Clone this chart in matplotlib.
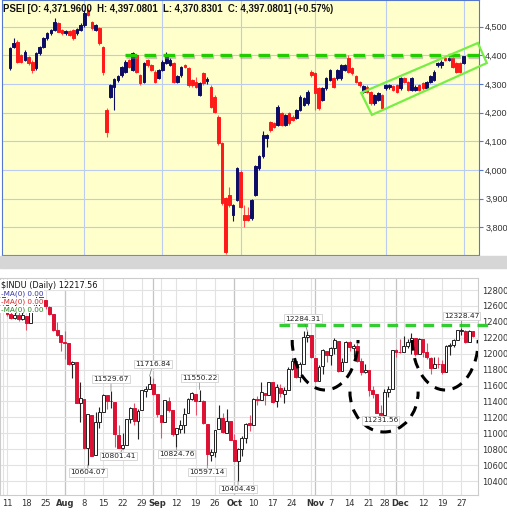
import numpy as np
import pandas as pd
import matplotlib.pyplot as plt
import matplotlib.patheffects as pe
import matplotlib.transforms as mtrans
from matplotlib.patches import Arc, Polygon, Rectangle

# ---- PSEI (daily), Jul 2011 - Jan 2012 ----
psei_holidays = ['2011-08-29', '2011-08-30', '2011-09-27', '2011-10-31',
                 '2011-11-01', '2011-11-07', '2011-11-30', '2011-12-30']
psei_dates = pd.bdate_range('2011-07-04', '2012-01-02').drop(pd.to_datetime(psei_holidays))

psei_open = [4355, 4430, 4448, 4401, 4384, 4395, 4378, 4355, 4407, 4430, 4459, 4477, 4488, 4512, 4488, 4477,
             4485, 4488, 4477, 4488, 4506, 4558, 4517, 4488, 4494, 4430, 4209, 4256, 4291, 4314, 4331, 4343,
             4384, 4349, 4401, 4331, 4308, 4384, 4366, 4343, 4320, 4349, 4372, 4366, 4372, 4308, 4331, 4366,
             4355, 4314, 4308, 4262, 4337, 4312, 4291, 4256, 4186, 4093, 3901, 3913, 3843, 3895, 3994, 3843,
             3843, 3831, 3913, 4006, 4047, 4110, 4168, 4163, 4157, 4198, 4157, 4198, 4186, 4180, 4209, 4227,
             4232, 4343, 4337, 4285, 4244, 4285, 4314, 4320, 4320, 4320, 4349, 4390, 4355, 4326, 4308, 4273,
             4291, 4273, 4232, 4244, 4262, 4285, 4288, 4293, 4296, 4285, 4320, 4308, 4279, 4279, 4296, 4302,
             4285, 4308, 4314, 4366, 4366, 4390, 4384, 4390, 4372, 4372, 4372]
psei_close = [4424, 4444, 4378, 4378, 4413, 4372, 4349, 4407, 4430, 4459, 4477, 4488, 4517, 4483, 4477, 4486,
              4471, 4459, 4491, 4506, 4546, 4541, 4494, 4506, 4442, 4343, 4134, 4296, 4316, 4326, 4360, 4378,
              4360, 4407, 4343, 4302, 4372, 4366, 4349, 4308, 4349, 4378, 4401, 4384, 4308, 4326, 4360, 4360,
              4296, 4296, 4291, 4302, 4302, 4316, 4221, 4203, 4093, 3884, 3715, 3878, 3878, 4006, 3872, 3826,
              3826, 3895, 4012, 4047, 4122, 4122, 4139, 4151, 4221, 4157, 4192, 4163, 4174, 4209, 4256, 4250,
              4273, 4331, 4267, 4215, 4285, 4320, 4349, 4291, 4349, 4366, 4366, 4343, 4337, 4308, 4296, 4293,
              4273, 4232, 4262, 4267, 4215, 4296, 4296, 4279, 4273, 4320, 4308, 4279, 4320, 4291, 4279, 4285,
              4308, 4326, 4343, 4372, 4378, 4384, 4390, 4360, 4343, 4343, 4397]
psei_high = [4430, 4462, 4452, 4405, 4418, 4398, 4382, 4410, 4434, 4463, 4480, 4492, 4530, 4516, 4492, 4490,
             4488, 4492, 4496, 4512, 4558, 4564, 4520, 4510, 4498, 4434, 4215, 4300, 4320, 4330, 4364, 4384,
             4388, 4410, 4405, 4335, 4376, 4388, 4370, 4347, 4353, 4382, 4410, 4390, 4376, 4330, 4364, 4370,
             4360, 4318, 4326, 4306, 4340, 4325, 4295, 4260, 4190, 4098, 3905, 3942, 3882, 4010, 3998, 3878,
             3872, 3900, 4016, 4052, 4135, 4126, 4172, 4166, 4226, 4202, 4196, 4202, 4190, 4213, 4260, 4255,
             4278, 4350, 4341, 4290, 4290, 4325, 4353, 4324, 4353, 4370, 4370, 4401, 4360, 4330, 4312, 4297,
             4295, 4277, 4266, 4272, 4266, 4300, 4300, 4297, 4300, 4324, 4324, 4312, 4324, 4296, 4300, 4306,
             4312, 4330, 4348, 4376, 4382, 4394, 4394, 4394, 4376, 4376, 4397]
psei_low = [4348, 4425, 4372, 4372, 4380, 4366, 4337, 4350, 4402, 4426, 4455, 4472, 4484, 4480, 4472, 4472,
            4466, 4455, 4472, 4484, 4500, 4536, 4488, 4484, 4436, 4330, 4114, 4250, 4209, 4308, 4326, 4338,
            4355, 4345, 4338, 4297, 4302, 4360, 4344, 4302, 4316, 4344, 4368, 4362, 4302, 4302, 4326, 4355,
            4290, 4290, 4286, 4258, 4296, 4300, 4215, 4198, 4088, 3878, 3707, 3872, 3820, 3890, 3866, 3802,
            3820, 3826, 3908, 4000, 4042, 4081, 4134, 4146, 4152, 4152, 4152, 4158, 4170, 4176, 4205, 4222,
            4228, 4326, 4209, 4210, 4240, 4280, 4310, 4286, 4315, 4315, 4344, 4338, 4332, 4303, 4290, 4268,
            4268, 4226, 4226, 4240, 4208, 4280, 4284, 4274, 4268, 4280, 4303, 4274, 4274, 4274, 4274, 4280,
            4280, 4303, 4310, 4360, 4355, 4380, 4380, 4355, 4338, 4338, 4371]
psei_tick_dates = ['2011-08-01', '2011-09-01', '2011-10-01', '2011-11-01', '2011-12-01', '2012-01-02']
psei_tick_labels = ['08/01/2011', '09/01/2011', '10/03/2011', '11/01/2011', '12/01/2011', '01/02/2012']
psei_resistance = 4400
psei_channel = [(94.4, 4269), (97.3, 4192), (128.2, 4373), (125.8, 4443)]

# ---- $INDU (daily), Jul - Dec 2011 ----
dow_holidays = ['2011-09-05', '2011-11-24', '2011-12-26']
dow_dates = pd.bdate_range('2011-07-08', '2011-12-30').drop(pd.to_datetime(dow_holidays))

dow_open = [12719, 12655, 12505, 12447, 12492, 12437, 12479, 12386, 12587, 12572, 12724, 12680, 12592, 12500,
            12300, 12238, 12141, 12131, 11866, 11896, 11383, 11433, 10810, 11228, 10729, 11143, 11270, 11478,
            11406, 11395, 10983, 10820, 10854, 11176, 11320, 11149, 11290, 11530, 11560, 11614, 11490, 11230,
            11140, 11410, 11290, 10990, 11060, 11110, 11250, 11430, 11500, 11400, 11400, 11120, 10730, 10770,
            11050, 11190, 11010, 11150, 10910, 10650, 10800, 10940, 11130, 11110, 11430, 11420, 11510, 11480,
            11640, 11400, 11575, 11500, 11540, 11810, 11910, 11710, 11870, 12205, 12230, 11950, 11660, 11840,
            12040, 11980, 12070, 12160, 11780, 11900, 12150, 12075, 12095, 11905, 11770, 11790, 11545, 11490,
            11255, 11235, 11520, 11560, 12045, 12020, 12020, 12095, 12150, 12195, 12000, 12180, 12020, 11950,
            11825, 11870, 11865, 11770, 12100, 12110, 12170, 12290, 12290, 12150, 12285]
dow_high = [12719, 12655, 12560, 12620, 12590, 12520, 12479, 12600, 12640, 12751, 12750, 12680, 12600, 12500,
            12400, 12240, 12285, 12140, 11905, 11900, 11650, 11433, 11245, 11228, 11270, 11330, 11490, 11478,
            11530, 11395, 11100, 11000, 11180, 11330, 11375, 11300, 11540, 11600, 11717, 11700, 11490, 11230,
            11420, 11450, 11290, 11070, 11170, 11320, 11440, 11520, 11500, 11550, 11420, 11120, 10800, 11045,
            11350, 11250, 11300, 11150, 10990, 10810, 10960, 11130, 11230, 11440, 11470, 11640, 11510, 11650,
            11650, 11620, 11620, 11580, 11830, 11950, 11910, 11900, 12280, 12284, 12230, 11950, 11860, 12060,
            12040, 12080, 12200, 12160, 11950, 12160, 12160, 12120, 12140, 11950, 11870, 11790, 11600, 11490,
            11360, 11560, 11600, 12050, 12060, 12180, 12220, 12190, 12260, 12195, 12200, 12180, 12130, 11960,
            11960, 11960, 11920, 12110, 12130, 12180, 12300, 12328, 12300, 12300, 12290]
dow_low = [12581, 12470, 12430, 12440, 12410, 12420, 12300, 12386, 12550, 12560, 12630, 12560, 12490, 12280,
           12220, 12030, 11935, 11860, 11700, 11380, 11140, 10800, 10604, 10710, 10729, 11070, 11270, 11300,
           11320, 10830, 10818, 10801, 10850, 11130, 11100, 10930, 11290, 11450, 11560, 11480, 11200, 10940,
           11140, 11270, 10960, 10825, 11010, 11000, 11250, 11420, 11230, 11400, 11120, 10597, 10650, 10700,
           11050, 11000, 11010, 10910, 10650, 10404, 10720, 10880, 11030, 11110, 11360, 11420, 11350, 11480,
           11380, 11330, 11450, 11380, 11540, 11800, 11690, 11640, 11870, 12150, 11950, 11640, 11660, 11750,
           11890, 11860, 12000, 11770, 11780, 11900, 12030, 11960, 11890, 11730, 11760, 11470, 11440, 11250,
           11231, 11235, 11450, 11560, 11960, 12010, 12020, 12070, 12000, 11970, 12000, 11960, 11930, 11750,
           11825, 11820, 11740, 11770, 11980, 12080, 12170, 12240, 12140, 12150, 12210]
dow_close = [12657, 12505, 12447, 12492, 12437, 12480, 12385, 12587, 12572, 12724, 12681, 12593, 12502, 12303,
             12241, 12143, 12132, 11867, 11897, 11384, 11445, 10810, 11240, 10720, 11144, 11270, 11483, 11406,
             11411, 10991, 10818, 10855, 11177, 11321, 11150, 11285, 11540, 11560, 11614, 11494, 11240, 11140,
             11415, 11296, 10992, 11062, 11106, 11247, 11434, 11510, 11401, 11408, 11125, 10734, 10771, 11044,
             11191, 11011, 11154, 10913, 10655, 10809, 10940, 11123, 11103, 11433, 11416, 11519, 11478, 11644,
             11397, 11577, 11505, 11542, 11809, 11913, 11706, 11869, 12209, 12231, 11955, 11657, 11836, 12044,
             11983, 12069, 12170, 11780, 11894, 12153, 12079, 12096, 11906, 11770, 11796, 11547, 11493, 11257,
             11232, 11523, 11556, 12046, 12020, 12019, 12097, 12150, 12196, 11997, 12184, 12021, 11955, 11824,
             11869, 11866, 11766, 12103, 12107, 12169, 12294, 12292, 12151, 12288, 12218]

dow_tick_dates = ['2011-07-11', '2011-07-18', '2011-07-25', '2011-08-01', '2011-08-08', '2011-08-15',
                  '2011-08-22', '2011-08-29', '2011-09-01', '2011-09-12', '2011-09-19', '2011-09-26',
                  '2011-10-03', '2011-10-10', '2011-10-17', '2011-10-24', '2011-11-01', '2011-11-07',
                  '2011-11-14', '2011-11-21', '2011-11-28', '2011-12-01', '2011-12-12', '2011-12-19',
                  '2011-12-27']
dow_tick_labels = ['11', '18', '25', 'Aug', '8', '15', '22', '29', 'Sep', '12', '19', '26', 'Oct', '10', '17',
                   '24', 'Nov', '7', '14', '21', '28', 'Dec', '12', '19', '27']
dow_resistance = 12355
# labelled extremes: (date, value, x offset pt, y offset pt)
dow_marks = [('2011-10-28', 12284.31, -3, 9), ('2011-12-27', 12328.47, 0, 8.5),
             ('2011-08-31', 11716.84, 2.5, 9), ('2011-08-17', 11529.67, 0, 9),
             ('2011-09-20', 11550.22, 0, 8.5), ('2011-08-09', 10604.07, 0, -5.5),
             ('2011-08-22', 10801.41, -3, -5), ('2011-09-12', 10824.76, 0, -5),
             ('2011-09-22', 10597.14, 0, -5), ('2011-10-04', 10404.49, 0, -6),
             ('2011-11-25', 11231.56, 0, -4)]
# dashed "cup" arcs: centre (index, price), width, height, theta1, theta2
dow_arcs = [(83.6, 12172, 17.1, 1256, 180, 360),
            (98.9, 11519, 17.7, 1005, 150, 390),
            (114.8, 12172, 17.1, 1256, 175, 365)]


def draw_candles(ax, o, h, l, c, width, up_face, up_edge, up_wick, dn_face, dn_edge, dn_wick):
    o, h, l, c = map(np.asarray, (o, h, l, c))
    x = np.arange(len(o))
    up = c >= o
    ax.vlines(x[up], l[up], h[up], color=up_wick, lw=0.8, zorder=2)
    ax.vlines(x[~up], l[~up], h[~up], color=dn_wick, lw=0.8, zorder=2)
    ax.bar(x[up], (c - o)[up], width, bottom=o[up], color=up_face, edgecolor=up_edge, lw=0.7, zorder=3)
    ax.bar(x[~up], (o - c)[~up], width, bottom=c[~up], color=dn_face, edgecolor=dn_edge, lw=0.7, zorder=3)


W, H = 507, 512
fig = plt.figure(figsize=(W / 100, H / 100), dpi=100)
fig.patches.append(Rectangle((0, 1 - 268 / H), 1, 12 / H, transform=fig.transFigure,
                             color='#d6d6d6', zorder=0))

# ---------------- top panel ----------------
ax1 = fig.add_axes([2 / W, 1 - 255 / H, 477 / W, 255 / H])
ax1.set_facecolor('#ffffcc')
draw_candles(ax1, psei_open, psei_high, psei_low, psei_close, 0.7,
             '#0d0d66', '#0d0d66', '#0d0d66', '#ff1a1a', '#ff1a1a', '#ff5050')
ax1.set_xlim(-2.15, 126.1)
ax1.set_ylim(3703, 4593)
ax1.set_yticks(range(3800, 4501, 100))
ax1.set_yticklabels(['{:,}'.format(v) for v in range(3800, 4501, 100)])
pos1 = psei_dates.searchsorted(pd.to_datetime(psei_tick_dates))
ax1.set_xticks(pos1)
ax1.set_xticklabels(psei_tick_labels)
ax1.yaxis.tick_right()
ax1.tick_params(axis='y', labelsize=6.5, colors='#5577cc', labelcolor='#333333', length=3, pad=1.5)
ax1.tick_params(axis='x', labelsize=6.5, colors='#5577cc', labelcolor='#333333', length=2, pad=1.5)
for t in ax1.get_xticklabels() + ax1.get_yticklabels():
    t.set_family('Liberation Sans')
ax1.grid(True, color='#bcccf0', lw=0.8)
ax1.set_axisbelow(True)
for s in ax1.spines.values():
    s.set_color('#5577cc')

ax1.hlines(psei_resistance, 30.9, 126.1, color='#22cc00', lw=2.4, linestyles=(0, (3.5, 2.2)), zorder=5,
           path_effects=[pe.SimpleLineShadow(offset=(0.6, -1.4), shadow_color='#888888', alpha=0.45),
                         pe.Normal()])
ax1.add_patch(Polygon(psei_channel, closed=True, fill=False, ec='#77ee44', lw=1.6, zorder=6, clip_on=False))
ax1.text(0.003, 0.985, 'PSEI [O: 4,371.9600  H: 4,397.0801  L: 4,370.8301  C: 4,397.0801] (+0.57%)',
         transform=ax1.transAxes, ha='left', va='top', fontsize=6.95, fontweight='bold',
         family='Liberation Sans', color='#111111')

# ---------------- bottom panel ----------------
ax2 = fig.add_axes([0, 1 - 495 / H, 478 / W, 217 / H])
draw_candles(ax2, dow_open, dow_high, dow_low, dow_close, 0.75,
             'white', '#222222', '#222222', '#dd1133', '#dd1133', '#e8506a')
ax2.set_xlim(-0.82, 123.3)
ax2.set_ylim(10225, 12951)
ax2.set_yticks(range(10400, 12801, 200))
ax2.yaxis.tick_right()
week_starts = dow_dates.to_series().groupby(dow_dates.to_period('W')).min()
month_starts = dow_dates.to_series().groupby(dow_dates.to_period('M')).min()
ax2.vlines(dow_dates.searchsorted(week_starts.values), 10225, 12951, color='#e2e2e2', lw=0.8, zorder=0)
ax2.vlines(dow_dates.searchsorted(month_starts.values)[1:], 10225, 12951, color='#c4c4c4', lw=0.9, zorder=0)
ax2.yaxis.grid(True, color='#e2e2e2', lw=0.8)
ax2.set_axisbelow(True)
pos2 = dow_dates.searchsorted(pd.to_datetime(dow_tick_dates))
ax2.set_xticks(pos2)
ax2.set_xticklabels(dow_tick_labels)
ax2.tick_params(axis='both', labelsize=6, colors='#cccccc', labelcolor='#333333', length=0, pad=3)
nudge = mtrans.ScaledTranslation(4 / 100, 0, fig.dpi_scale_trans)
for t in ax2.get_xticklabels():
    if t.get_text().isalpha():
        t.set_fontweight('bold')
    if t.get_text() in ('Sep', 'Dec'):
        t.set_transform(t.get_transform() + nudge)
for s in ax2.spines.values():
    s.set_color('#cccccc')
    s.set_lw(0.8)

ax2.hlines(dow_resistance, 71.6, 125.9, color='#33cc33', lw=2.4, linestyles=(0, (3.2, 2.2)),
           zorder=5, clip_on=False)
for cx, cy, w, h, t1, t2 in dow_arcs:
    ax2.add_patch(Arc((cx, cy), w, h, theta1=t1, theta2=t2, color='black', lw=2.2,
                      linestyle=(0, (3.5, 2.5)), zorder=6))
for d, v, dx, dy in dow_marks:
    i = dow_dates.get_loc(pd.Timestamp(d))
    ax2.annotate('{:.2f}'.format(v), xy=(i, v), xytext=(dx, dy), textcoords='offset points',
                 ha='center', va='center', fontsize=5.3, color='#222222', zorder=7,
                 bbox=dict(boxstyle='square,pad=0.15', fc='white', ec='#c8c8c8', lw=0.5),
                 arrowprops=dict(arrowstyle='-', color='#777777', lw=0.5, shrinkA=0, shrinkB=0))

leg = [('$INDU (Daily) 12217.56', '#111111', 285, 5.9), ('-MA(0) 0.00', '#3333aa', 293.5, 5.2),
       ('-MA(0) 0.00', '#dd2222', 301.5, 5.2), ('-MA(0) 0.00', '#228822', 309.5, 5.2)]
for txt, col, yp, fs in leg:
    fig.text(1 / W, 1 - yp / H, txt, color=col, fontsize=fs, ha='left', va='center',
             family='DejaVu Sans', zorder=10,
             bbox=dict(boxstyle='square,pad=0.1', fc='white', ec='none'))

fig.savefig('out.png', dpi=100)
